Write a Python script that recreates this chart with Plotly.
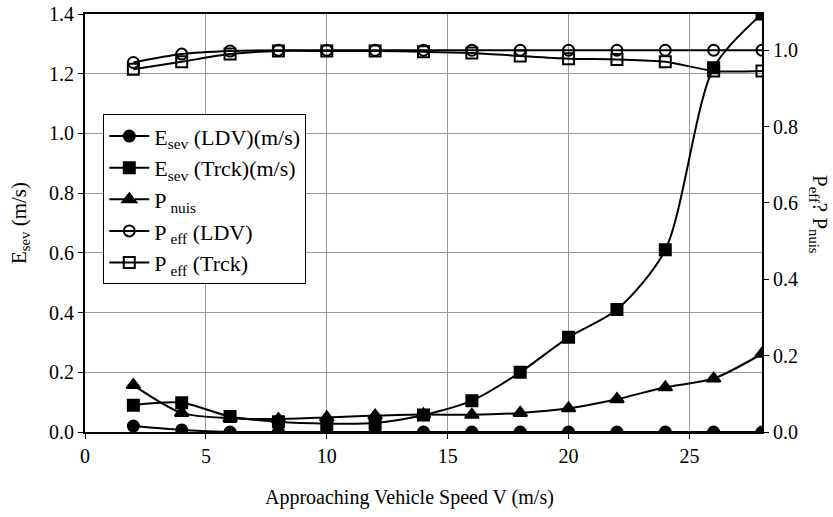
import plotly.graph_objects as go

speed = [2, 4, 6, 8, 10, 12, 14, 16, 18, 20, 22, 24, 26, 28]
esev_ldv = [0.02, 0.007, 0.0, 0.0, 0.0, 0.0, 0.0, 0.0, 0.0, 0.0, 0.0, 0.0, 0.0, 0.0]
esev_trck = [0.09, 0.098, 0.052, 0.034, 0.028, 0.03, 0.057, 0.105, 0.20, 0.317, 0.41, 0.61, 1.22, 1.40]
p_nuis = [0.123, 0.05, 0.036, 0.034, 0.038, 0.043, 0.046, 0.045, 0.05, 0.062, 0.086, 0.117, 0.14, 0.205]
p_eff_ldv = [0.968, 0.99, 0.998, 1.0, 1.0, 1.0, 1.0, 1.0, 1.0, 1.0, 1.0, 1.0, 1.0, 1.0]
p_eff_trck = [0.95, 0.97, 0.99, 0.998, 0.998, 0.998, 0.996, 0.993, 0.985, 0.978, 0.976, 0.97, 0.946, 0.946]

FONT = "Liberation Serif"
fig = go.Figure()

def add(x, y, name, symbol, size, axis):
    fig.add_trace(go.Scatter(
        x=x, y=y, name=name, mode="lines+markers", yaxis=axis,
        line=dict(color="black", width=2, shape="spline", smoothing=0.8),
        marker=dict(symbol=symbol, size=size, color="black",
                    line=dict(color="black", width=2)),
    ))

add(speed, esev_ldv, "E<sub>sev</sub> (LDV)(m/s)", "circle", 11, "y")
add(speed, esev_trck, "E<sub>sev</sub> (Trck)(m/s)", "square", 11, "y")
add(speed, p_nuis, "P<sub> nuis</sub>", "triangle-up", 12, "y2")
add(speed, p_eff_ldv, "P<sub> eff</sub> (LDV)", "circle-open", 11, "y2")
add(speed, p_eff_trck, "P<sub> eff</sub> (Trck)", "square-open", 11, "y2")

fig.update_layout(
    width=833, height=517,
    margin=dict(l=85, r=71, t=14, b=85, autoexpand=False),
    paper_bgcolor="white", plot_bgcolor="white",
    font=dict(family=FONT, size=20, color="black"),
    showlegend=True,
    legend=dict(x=0.027, y=0.76, xanchor="left", yanchor="top",
                bgcolor="white", bordercolor="black", borderwidth=1,
                font=dict(family=FONT, size=22), tracegroupgap=0,
                itemwidth=40),
    xaxis=dict(range=[0, 28], dtick=5, tick0=0, showgrid=True, automargin=False,
               gridcolor="#999999", gridwidth=1, zeroline=False,
               showline=True, linecolor="black", linewidth=2, mirror=True,
               ticks="outside", ticklen=5, tickcolor="black",
               tickfont=dict(size=20)),
    yaxis=dict(range=[0, 1.4], dtick=0.2, tickformat=".1f", showgrid=True,
               automargin=False,
               gridcolor="#999999", gridwidth=1, zeroline=False,
               showline=True, linecolor="black", linewidth=2, mirror=True,
               ticks="outside", ticklen=5, tickcolor="black",
               tickfont=dict(size=20),
               title=dict(text="E<sub>sev</sub> (m/s)", standoff=17,
                          font=dict(size=21))),
    yaxis2=dict(range=[0, 1.095], dtick=0.2, tickformat=".1f", overlaying="y",
                side="right", showgrid=False, zeroline=False, automargin=False,
                showline=True, linecolor="black", linewidth=2,
                ticks="outside", ticklen=5, tickcolor="black",
                tickfont=dict(size=20)),
)

fig.add_annotation(
    text="Approaching Vehicle Speed V (m/s)", xref="paper", yref="paper",
    x=0.4786, y=-0.156, showarrow=False,
    font=dict(family=FONT, size=20), xanchor="center", yanchor="middle",
)

fig.add_annotation(
    text="P<sub>eff</sub>? P<sub>nuis</sub>", xref="paper", yref="paper",
    x=1.085, y=0.52, textangle=90, showarrow=False,
    font=dict(family=FONT, size=21), xanchor="center", yanchor="middle",
)

fig.write_html("out.html")
